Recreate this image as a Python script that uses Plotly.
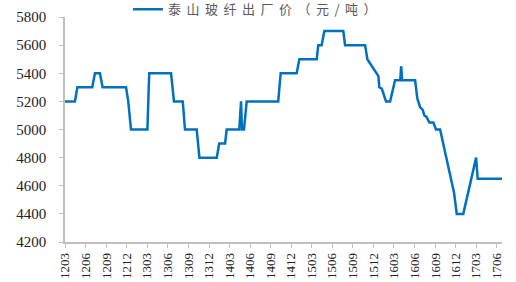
import plotly.graph_objects as go

dates = [
    "2012-03-01", "2012-04-14", "2012-04-25", "2012-06-30", "2012-07-12", "2012-08-03",
    "2012-08-15", "2012-11-27", "2012-12-07", "2012-12-19", "2013-03-02", "2013-03-10",
    "2013-06-15", "2013-06-28", "2013-08-06", "2013-08-16", "2013-10-07", "2013-10-19",
    "2014-01-04", "2014-01-15", "2014-02-10", "2014-02-17", "2014-04-14", "2014-04-22",
    "2014-04-26", "2014-05-05", "2014-05-17", "2014-10-04", "2014-10-15", "2014-12-25",
    "2015-01-06", "2015-03-24", "2015-03-31", "2015-04-15", "2015-04-27", "2015-07-20",
    "2015-07-28", "2015-10-25", "2015-11-04", "2015-12-12", "2015-12-23", "2015-12-27",
    "2016-01-07", "2016-01-26", "2016-02-13", "2016-03-06", "2016-03-29", "2016-04-02",
    "2016-04-07", "2016-06-03", "2016-06-13", "2016-06-25", "2016-07-07", "2016-07-14",
    "2016-07-24", "2016-08-05", "2016-08-23", "2016-09-04", "2016-09-22", "2016-11-23",
    "2016-12-05", "2017-01-03", "2017-03-01", "2017-03-08", "2017-06-25",
]
prices = [
    5200, 5200, 5300, 5300, 5400, 5400,
    5300, 5300, 5200, 5000, 5000, 5400,
    5400, 5200, 5200, 5000, 5000, 4800,
    4800, 4900, 4900, 5000, 5000, 5200,
    5000, 5000, 5200, 5200, 5400, 5400,
    5500, 5500, 5600, 5600, 5700, 5700,
    5600, 5600, 5500, 5400, 5380, 5300,
    5290, 5200, 5200, 5350, 5350, 5450,
    5350, 5350, 5220, 5160, 5140, 5100,
    5090, 5050, 5050, 5000, 5000, 4550,
    4400, 4400, 4800, 4650, 4650,
]
series_name = "泰山玻纤出厂价（元/吨）"
y_ticks = [4200, 4400, 4600, 4800, 5000, 5200, 5400, 5600, 5800]

fig = go.Figure()
fig.add_trace(go.Scatter(
    x=dates, y=prices, mode="lines",
    name='<span style="letter-spacing:5.5px">' + series_name + "</span>",
    line=dict(color="#0070C0", width=2.5),
))

axis_color = "#BFBFBF"
serif = "Liberation Serif"
fig.update_layout(
    width=516, height=282,
    margin=dict(l=65, r=14, t=17, b=40, autoexpand=False),
    plot_bgcolor="white", paper_bgcolor="white",
    showlegend=True,
    legend=dict(
        orientation="h", x=0.144, xanchor="left", y=1.034, yanchor="middle",
        font=dict(family="Noto Sans CJK SC", size=13, color="#595959"),
        bgcolor="rgba(0,0,0,0)", borderwidth=0,
        itemwidth=30,
    ),
    xaxis=dict(
        type="date",
        range=["2012-03-01", "2017-06-24"],
        tick0="2012-03-01", dtick="M3", tickformat="%y%m",
        tickangle=-90,
        ticks="outside", ticklen=4, tickcolor=axis_color,
        showline=True, linecolor=axis_color, linewidth=1.5,
        showgrid=False, zeroline=False,
        tickfont=dict(family=serif, size=13, color="#222222"),
    ),
    yaxis=dict(
        range=[4200, 5800],
        tickvals=y_ticks,
        ticks="outside", ticklen=4, tickcolor=axis_color,
        showline=True, linecolor=axis_color, linewidth=1.5,
        showgrid=False, zeroline=False,
        ticklabelstandoff=10,
        tickfont=dict(family=serif, size=15, color="#222222"),
    ),
)

fig.write_html("out.html")
